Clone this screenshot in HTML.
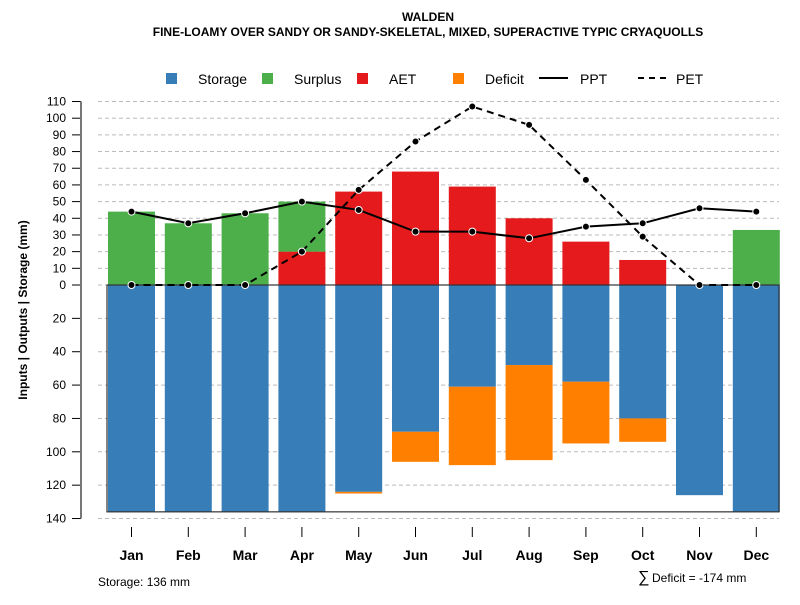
<!DOCTYPE html>
<html><head><meta charset="utf-8"><style>
body{margin:0;background:#fff}
svg{font-family:"Liberation Sans",sans-serif}
</style></head><body>
<svg id="c" width="800" height="600">
<text x="428" y="21" text-anchor="middle" font-size="12" font-weight="bold">WALDEN</text>
<text x="428" y="36" text-anchor="middle" font-size="12" font-weight="bold">FINE-LOAMY OVER SANDY OR SANDY-SKELETAL, MIXED, SUPERACTIVE TYPIC CRYAQUOLLS</text>
<g>
<rect x="166" y="73" width="11" height="11" fill="#377EB8"/>
<text x="198" y="84" font-size="14">Storage</text>
<rect x="262" y="73" width="11" height="11" fill="#4DAF4A"/>
<text x="294" y="84" font-size="14">Surplus</text>
<rect x="357" y="73" width="11" height="11" fill="#E41A1C"/>
<text x="389" y="84" font-size="14">AET</text>
<rect x="453" y="73" width="11" height="11" fill="#FF7F00"/>
<text x="485" y="84" font-size="14">Deficit</text>
<line x1="539" y1="78" x2="568" y2="78" stroke="#000" stroke-width="2"/>
<text x="580" y="84" font-size="14">PPT</text>
<line x1="638" y1="78" x2="668" y2="78" stroke="#000" stroke-width="2" stroke-dasharray="6,5"/>
<text x="676" y="84" font-size="14">PET</text>
</g>
<text transform="translate(27,310) rotate(-90)" text-anchor="middle" font-size="12" font-weight="bold">Inputs | Outputs | Storage    (mm)</text>
<text x="98" y="586" font-size="12">Storage: 136 mm</text>
<text x="638" y="582" font-size="16">∑</text>
<text x="652" y="582" font-size="12">Deficit = -174 mm</text>
<g id="grid"></g><g id="bars"></g><g id="lines"></g><g id="axes"></g>
</svg>
<script>
const months=["Jan","Feb","Mar","Apr","May","Jun","Jul","Aug","Sep","Oct","Nov","Dec"];
const storage=[136,136,136,136,124,88,61,48,58,80,126,136];
const surplus=[44,37,43,30,0,0,0,0,0,0,0,33];
const aet=[0,0,0,20,56,68,59,40,26,15,0,0];
const deficit=[0,0,0,0,1,18,47,57,37,14,0,0];
const ppt=[44,37,43,50,45,32,32,28,35,37,46,44];
const pet=[0,0,0,20,57,86,107,96,63,29,0,0];
const upTicks=[0,10,20,30,40,50,60,70,80,90,100,110];
const downTicks=[20,40,60,80,100,120,140];
const capacity=136;
const NS="http://www.w3.org/2000/svg";
const y=v=>285-v*1.668;
const x=i=>131.5+i*56.8;
function mk(p,t,a){const e=document.createElementNS(NS,t);for(const k in a)e.setAttribute(k,a[k]);document.getElementById(p).appendChild(e);return e;}
// grid & y ticks
const gt=upTicks.map(v=>v).concat(downTicks.map(v=>-v));
gt.forEach(v=>{
 const g=mk('grid','line',{x1:98,x2:779,y1:y(v),y2:y(v),stroke:'#bbb','stroke-dasharray':'4,3'});
 
 
 const t=mk('axes','line',{x1:72,x2:81,y1:y(v),y2:y(v),stroke:'#000'});
 
 
 const l=mk('axes','text',{x:66,y:y(v)+4,'text-anchor':'end','font-size':12});
 l.textContent=Math.abs(v);
 
 
});
const ax=mk('axes','line',{x1:81,x2:81,y1:y(110),y2:y(-140),stroke:'#777','stroke-width':2});


const w=47;
months.forEach((m,i)=>{
 const x0=x(i)-w/2;
 let r=mk('bars','rect',{x:x0,y:y(0),width:w,height:storage[i]*1.668,fill:'#377EB8'});
 
 
 if(deficit[i]>0){r=mk('bars','rect',{x:x0,y:y(-storage[i]),width:w,height:deficit[i]*1.668,fill:'#FF7F00'});
 
 }
 if(aet[i]>0){r=mk('bars','rect',{x:x0,y:y(aet[i]),width:w,height:aet[i]*1.668,fill:'#E41A1C'});
 
 }
 if(surplus[i]>0){r=mk('bars','rect',{x:x0,y:y(aet[i]+surplus[i]),width:w,height:surplus[i]*1.668,fill:'#4DAF4A'});
 
 }
 const t=mk('axes','line',{x1:x(i),x2:x(i),y1:527,y2:537,stroke:'#000'});
 
 
 const l=mk('axes','text',{x:x(i),y:560,'text-anchor':'middle','font-size':14,'font-weight':'bold'});
 l.textContent=m;
 
 
});
const ob=mk('bars','rect',{x:107,y:y(0),width:672,height:capacity*1.668,fill:'none',stroke:'#333','stroke-width':1.2});


function series(arr,dash,name){
 const p=mk('lines','polyline',{points:arr.map((v,i)=>x(i)+','+y(v)).join(' '),fill:'none',stroke:'#000','stroke-width':2,'stroke-dasharray':dash});
 
 
 arr.forEach((v,i)=>{const c=mk('lines','circle',{cx:x(i),cy:y(v),r:3.5,fill:'#000',stroke:'#fff','stroke-width':1});
 
 });
}
series(ppt,'none','ppt');
series(pet,'7,5','pet');
</script>
</body></html>
